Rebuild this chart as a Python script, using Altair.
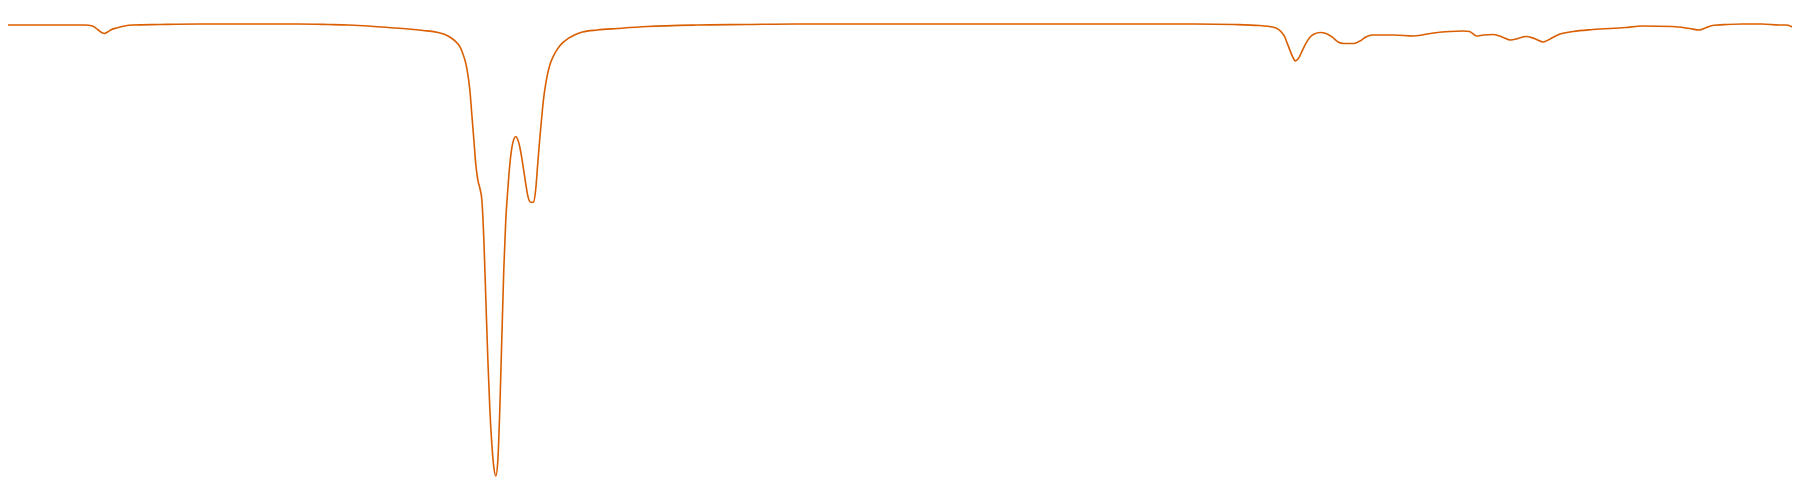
import altair as alt
import pandas as pd

# position along the scan (arbitrary units) and transmittance (%)
posicao = [
    0, 30, 60, 85, 93, 98, 102, 105, 108, 112, 117, 125, 133, 160, 200, 250,
    300, 330, 350, 370, 390, 410, 425, 440, 450, 457, 462, 466, 469, 472, 474,
    476, 478, 480, 482, 484, 486, 488, 490, 492, 494, 496, 498, 500, 502, 504,
    506, 508, 510, 512, 514, 516, 518, 520, 522, 524, 526, 528, 530, 533, 536,
    538, 540, 542, 544, 546, 548, 550, 553, 556, 560, 565, 570, 577, 585, 600,
    620, 650, 700, 750, 800, 900, 1000, 1100, 1200, 1240, 1265, 1278, 1285,
    1290, 1294, 1298, 1301, 1304, 1308, 1312, 1316, 1320, 1326, 1332, 1338,
    1344, 1350, 1360, 1366, 1372, 1378, 1390, 1400, 1420, 1440, 1470, 1476,
    1483, 1490, 1500, 1510, 1517, 1525, 1533, 1541, 1550, 1557, 1567, 1580,
    1600, 1633, 1650, 1680, 1697, 1707, 1713, 1720, 1735, 1750, 1770, 1787,
    1795, 1800,
]
transmitancia = [
    95.2, 95.2, 95.2, 95.2, 95.0, 94.3, 93.7, 93.5, 93.8, 94.3, 94.6, 95.0,
    95.2, 95.3, 95.4, 95.4, 95.4, 95.3, 95.2, 95.0, 94.7, 94.4, 94.1, 93.7,
    93.0, 92.0, 90.8, 88.8, 86.4, 82.0, 77.0, 72.0, 67.0, 64.0, 62.4, 60.0,
    52.0, 40.0, 28.0, 18.0, 11.0, 6.4, 4.6, 7.6, 18.0, 32.0, 46.0, 56.0, 62.0,
    67.0, 70.4, 72.2, 72.8, 72.2, 70.8, 68.6, 66.0, 63.4, 61.0, 59.6, 59.6,
    62.0, 67.0, 72.0, 76.4, 80.4, 83.2, 85.4, 87.6, 89.0, 90.4, 91.6, 92.4,
    93.2, 93.8, 94.2, 94.5, 94.9, 95.2, 95.3, 95.4, 95.4, 95.4, 95.4, 95.4,
    95.3, 95.1, 94.8, 94.2, 93.0, 91.0, 89.0, 88.0, 88.4, 90.0, 91.6, 92.8,
    93.4, 93.7, 93.5, 92.8, 91.8, 91.5, 91.5, 92.0, 92.8, 93.2, 93.2, 93.2,
    93.0, 93.6, 94.0, 93.9, 93.0, 93.2, 93.3, 92.7, 92.2, 92.5, 92.9, 92.5,
    91.8, 92.4, 93.4, 93.9, 94.3, 94.7, 95.0, 94.9, 94.5, 94.2, 94.6, 95.1,
    95.3, 95.4, 95.4, 95.2, 95.2, 94.8,
]

df = pd.DataFrame({"posicao": posicao, "transmitancia": transmitancia})

chart = alt.Chart(df).mark_line(
    color="#d95f02", strokeWidth=1.6, interpolate="monotone", clip=True
).encode(
    x=alt.X("posicao:Q", axis=None, scale=alt.Scale(domain=[8, 1800], nice=False, zero=False)),
    y=alt.Y("transmitancia:Q", axis=None, scale=alt.Scale(domain=[1.6, 98.4], nice=False, zero=False)),
).properties(
    width=1792, height=484, padding=0, autosize=alt.AutoSizeParams(type="none")
).configure_view(stroke=None)

chart.save("out.html", embed_options={"renderer": "svg", "actions": False})
